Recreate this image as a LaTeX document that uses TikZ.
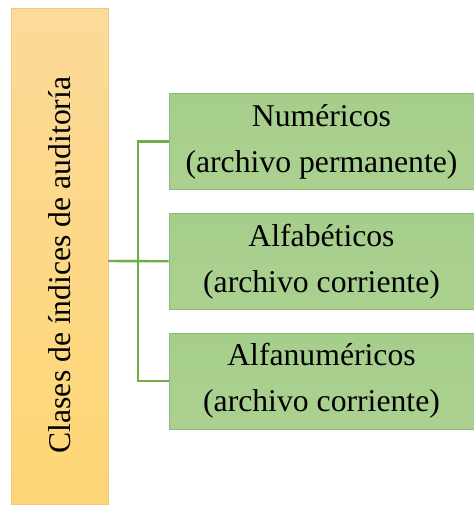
\documentclass[tikz,border=0pt]{standalone}
\usepackage{fontspec}
\setmainfont{Liberation Serif}
\usetikzlibrary{positioning}
\definecolor{barTop}{HTML}{FCDA98}
\definecolor{barBot}{HTML}{FDD775}
\definecolor{boxTop}{HTML}{A6CE8B}
\definecolor{boxBot}{HTML}{ABD191}
\definecolor{boxLine}{HTML}{8FB87A}
\definecolor{connGreen}{HTML}{70AD47}
\tikzset{
  bar/.style={rotate=90,top color=barTop,bottom color=barBot,draw=barTop!80!brown,line width=0.6pt,
    minimum width=496pt,minimum height=97pt,inner sep=0pt,font=\fontsize{31.7}{46}\selectfont},
  kind/.style={top color=boxTop,bottom color=boxBot,draw=boxLine,line width=0.8pt,
    minimum width=305pt,minimum height=96pt,inner sep=0pt,align=center,
    font=\fontsize{31.7}{46}\selectfont},
  conn/.style={draw=connGreen,line width=2.4pt}
}
\begin{document}
\begin{tikzpicture}[x=1pt,y=-1pt]
  \useasboundingbox[fill=white] (0,0) rectangle (474,509);
  \node[bar] (clases) at (59.5,256) {Clases de índices de auditoría\hspace*{18pt}};
  \node[kind] (num) at (321.5,141.5) {Numéricos\\(archivo permanente)};
  \node[kind,below=23pt of num] (alf) {Alfabéticos\\(archivo corriente)};
  \node[kind,below=23pt of alf] (alfnum) {Alfanuméricos\\(archivo corriente)};
  \coordinate (j) at (138,261);
  \draw[conn] (clases.south |- j) -- (alf.west);
  \draw[conn] (num.west) -| (j) |- (alfnum.west);
\end{tikzpicture}
\end{document}
